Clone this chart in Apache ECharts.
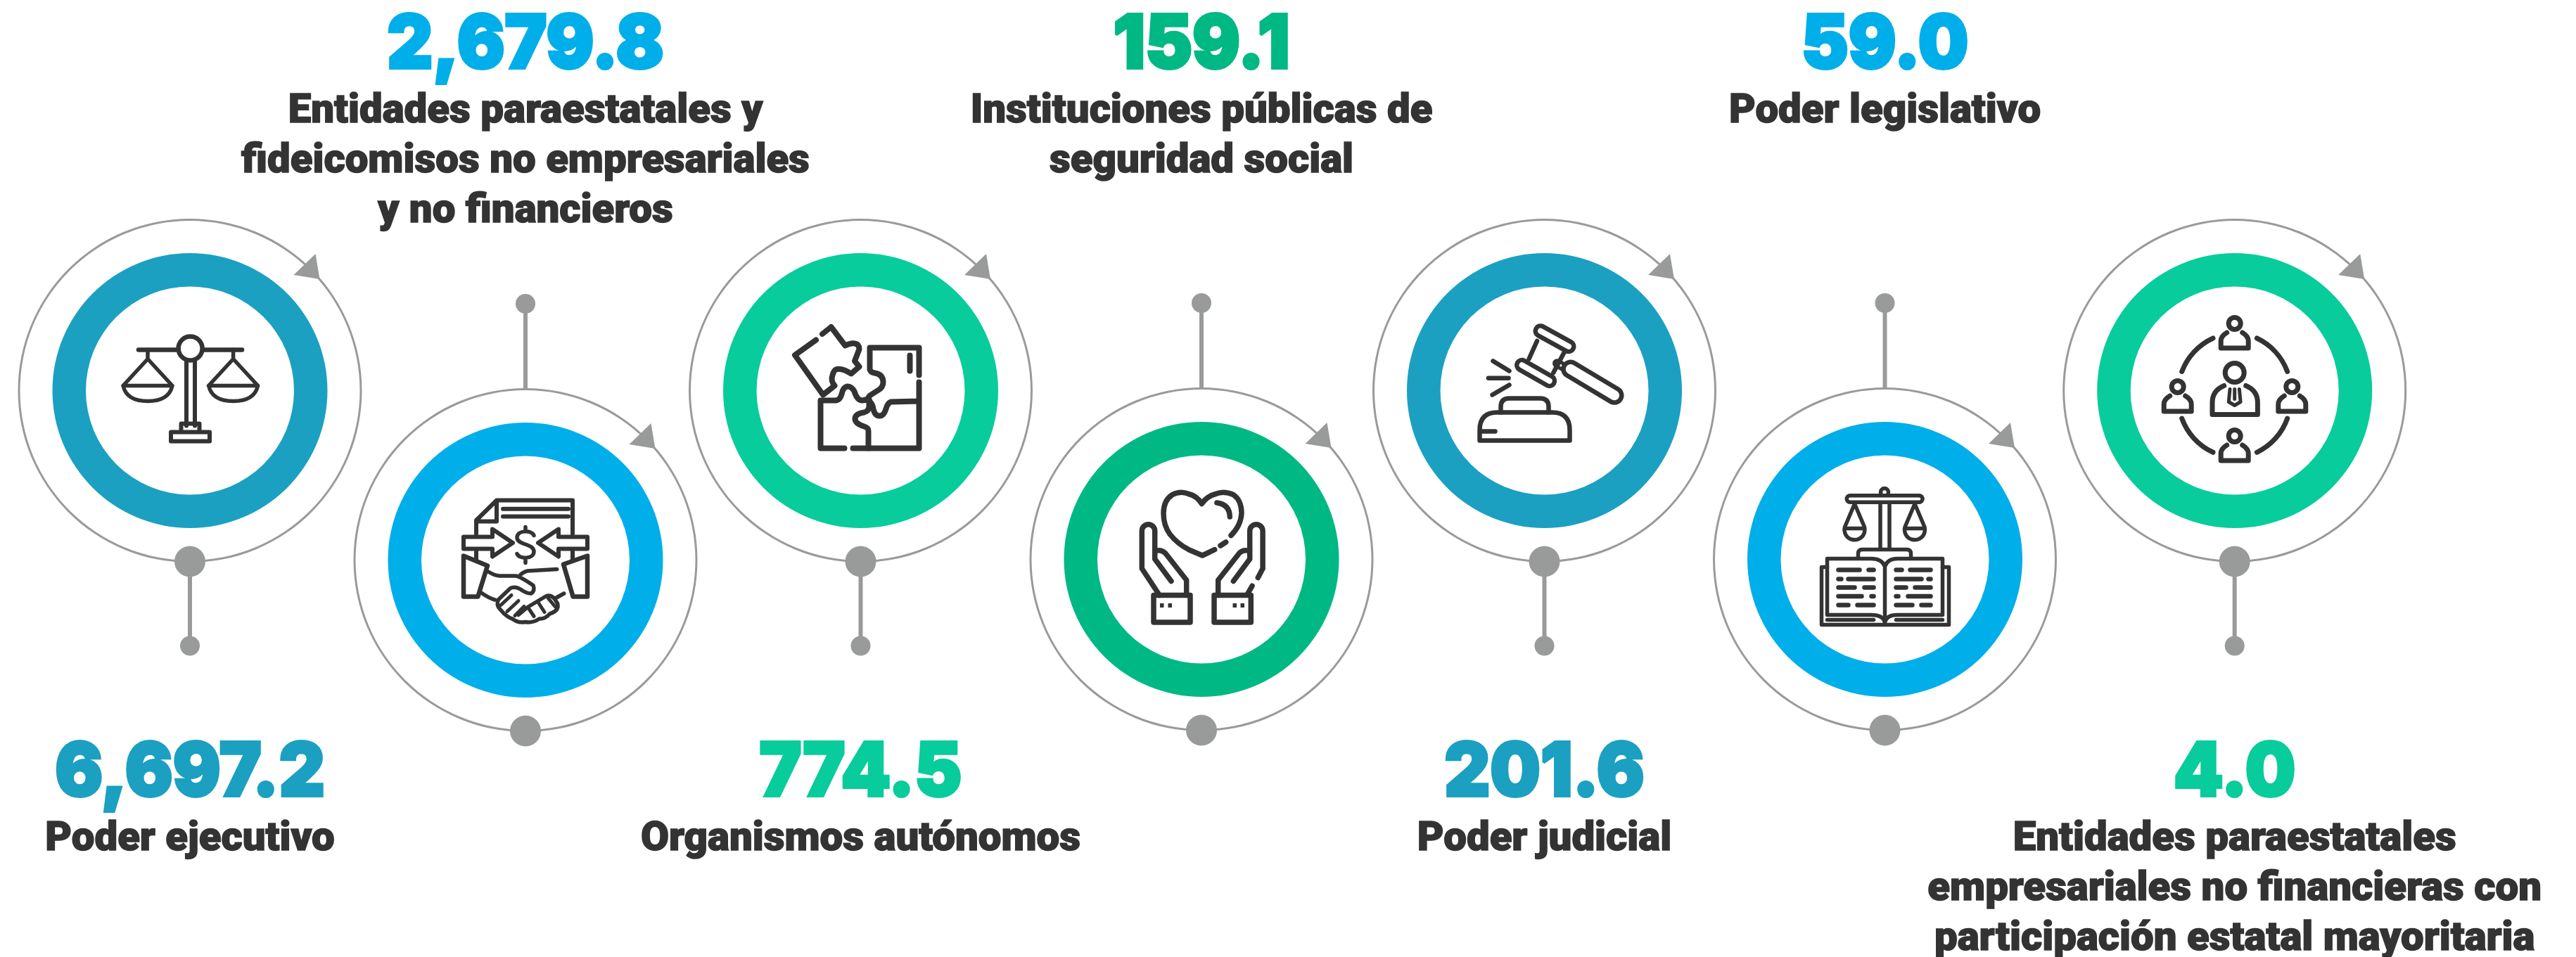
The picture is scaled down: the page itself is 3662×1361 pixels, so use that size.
<!DOCTYPE html>
<html><head><meta charset="utf-8">
<style>html,body{margin:0;padding:0;background:#fff}#c{width:3662px;height:1361px}</style>
<script src="https://cdn.jsdelivr.net/npm/echarts@6/dist/echarts.min.js"></script>
</head><body><div id="c"></div>
<script>
// ---- data ----
const categories = [
  ['Poder ejecutivo'],
  ['Entidades paraestatales y','fideicomisos no empresariales','y no financieros'],
  ['Organismos autónomos'],
  ['Instituciones públicas de','seguridad social'],
  ['Poder judicial'],
  ['Poder legislativo'],
  ['Entidades paraestatales','empresariales no financieras con','participación estatal mayoritaria']
];
const values = [6697.2, 2679.8, 774.5, 159.1, 201.6, 59.0, 4.0];
const valueLabels = ['6,697.2','2,679.8','774.5','159.1','201.6','59.0','4.0'];

// ---- layout and styles ----
const W = 3662, H = 1361;
const nodeX = [270, 747, 1223.5, 1708, 2195.5, 2679.5, 3176.7];
const nodeY = [555.5, 796.5, 555.5, 795.5, 555.5, 795.5, 555.5];
const ringColor = ['#1ba0c1','#00aeea','#08cc9b','#00b884','#1ba0c1','#00aeea','#08cc9b'];
const GREY = '#999b9a', INK = '#333333';
const VALUE_FONT = {fontFamily:'Inter', fontWeight:900, fontSize:106};
const LABEL_FONT = {fontFamily:'Roboto', fontWeight:900, fontSize:57};
const VALUE_SX = 0.95, LABEL_SX = 1.02;
const circ = (x,y,r)=>`M${x-r},${y} A${r},${r} 0 1,0 ${x+r},${y} A${r},${r} 0 1,0 ${x-r},${y} Z`;
const pan = x=>`M${x},-58 V-45 M${x},-45 L${x-35},-7 L${x+35},-7 Z M${x-35},-7 Q${x-30},15 ${x},15 Q${x+30},15 ${x+35},-7`;
const person = (x,y)=>circ(x,y,8.5)+` M${x-11},${y+13} Q${x-19.5},${y+18} ${x-19.5},${y+25} V${y+35} H${x+19.5} V${y+25} Q${x+19.5},${y+18} ${x+11},${y+13}`;
const bookPan = x=>`M${x},-79 L${x-14},-46 A14.5,14.5 0 1,0 ${x+14},-46 Z M${x-12},-44 H${x+12}`;
const W_ = '#ffffff';
const icons = [
 // scales
 [[`M-73,-58 H74`,6.5],[pan(-60),5.5],[pan(61.6),5.5],
  [`M-5,-43 V50 M7,-43 V50`,6],[`M-12.5,56 V47 H13.5 V56`,6],[`M-27,59 H28 V72 H-27 Z`,6],
  [circ(0.6,-60,17),6.5,INK,W_]],
 // handshake and document
 [[`M-70,-37 V-56.5 L-41,-85 H67 V-37 M-41,-85 V-55 H-70 M-32,-72.7 H61 M-32,-62 H61 M-70,-13 V-1 M67,-13 V-1`,6],
  [`M-88,-33 H-47 V-44 L-18,-24.5 L-47,-5 V-16 H-88 Z`,6],[`M88,-33 H47 V-44 L18,-24.5 L47,-5 V-16 H88 Z`,6],
  [`M12,-35 C9,-43 -12,-43 -12,-32 C-12,-21 12,-24 12,-12 C12,-1 -9,-1 -12,-9 M0,-47 V-42 M0,-1 V4`,5.5],
  [`M-88,-6 L-54,8 L-67.6,52 H-88 Z`,6.5],[`M88,-6 L54,6 L67.6,52 H88 Z`,6.5],
  [`M-52,17 Q-44,22 -37,22.5 H-14 Q-8,23 11,36 Q14,44 8,47.5 Q2,48 -8,41 Q-16,37 -22,40.4 L-38.7,56.5 M-63.7,46 Q-52,54 -43.7,56.5`,5.5],
  [`M-7,20.6 Q0,15 6.3,15.3 L44.7,13 M41.3,55 L54.7,47.5`,5.5],
  [`M-38.7,56.5 Q-42,64 -36,70 L-30.3,76.3 Q-24,82 -18.7,83.5 Q-10,90 -0.3,88 Q10,90 19.7,83.5 Q28,84 34.7,76.3 Q48,72 45.7,62 L41.3,55 Q36,49 29.7,51 L3,67 L-10,78`,5.5],
  [`M-20,50 L-35,64 M-10,58 L-26,73 M-2,66 L-15,79 M4,68 L12,80 M18,60 L27,74 M32,54 L42,66`,5]],
 // puzzle
 [[`M83,-22 V-61 H13 V-30 Q14,-26 20,-25 Q32,-23 32,-12 Q32,-4 24,0 L13,7 Q10,10 10,14 M70,-50 V-28`,8],
  [`M83,-12 V82 H-11 M83,15 L43,16 Q38,18 36,26 Q33,36 27,36 Q20,36 18,26 Q16,14 6,13`,8],
  [`M11,82 V57 Q11,53 5,51 Q-8,47 -8,40 Q-8,33 5,31 Q12,29 12,22 V13`,8],
  [`M-23,82 H-57 V14 H-35 Q-29,13 -27,5 Q-25,-5 -19,-6 Q-13,-6 -9,1 Q-5,14 2,14 L12,13`,8],
  [`M-63.5,-72 L-93.5,-50.5 L-53.5,6 L-37,-7 Q-43,-14 -40,-22 Q-38,-30 -33.5,-30.5 Q-26,-32 -13.5,-24 L-2,-34 L-8.5,-42 L-2,-59 Q-2,-66 -8.5,-67 Q-14,-68 -22,-64 L-42,-90.5 L-54.5,-80.5`,8]],
 // hands and heart
 [[`M18.7,-13.8 L1.3,-5.5 L-18,-13.8 Q-34,-22 -44.7,-35.5 Q-54,-48 -54,-65.5 Q-54,-84 -41.3,-92 Q-30,-98 -18,-93 Q-6,-90 0.3,-79 Q8,-90 20,-93 Q32,-98 45.3,-92 Q57,-84 57,-65.5 Q56,-48 42,-34`,7.5],
  [`M27,-19.5 L34.7,-24.5 M22,-80.5 Q40,-78 40.3,-60.5`,7.5],
  [`M-59.7,51 L-84.7,13 V-40.5 A9.2,9.2 0 0,1 -66.3,-40.5 V-0.5 L-43,31 M-66.3,-11.5 Q-58,-15 -51.3,-8.8 L-21.3,29.5 V51`,7.5],
  [`M-68,51 H-16 V89.5 H-68 Z`,7.5],
  [`M87.1,13 V-40.5 A9.2,9.2 0 0,0 68.7,-40.5 V-0.5 L45.4,31 M68.7,-11.5 Q60,-15 53.7,-8.8 L23.7,29.5 V51 M87.1,13 L80.3,26 M72,37.8 L65.3,49.5`,7.5],
  [`M18,51 H70.3 V89.5 H18 Z`,7.5],
  [`M-59,65.5 H-53.5 M-47.5,65.5 H-42 M44.5,65.5 H50 M55.5,65.5 H61`,6,INK,null,'butt']],
 // gavel
 [[`M-92,71 V56 Q-92,31 -67,31 H11 Q36,31 36,56 V71 Z M-90,58 H-70`,6.5],
  [`M-62,31 V23 Q-62,11 -50,11 H-6 Q6,11 6,23 V31`,6.5],
  [`M-73,-42 L-50,-28 M-79.5,-17.8 H-51 M-74,6 L-50,-8`,6.5],
  [`M18,-38.8 L36,-28.8`,13],[`M18,-38.8 L36,-28.8`,3,W_],
  [`M37.2,-30.5 L99.5,6.8`,27],[`M37.2,-30.5 L99.5,6.8`,14,W_],
  [`M-10.5,-70.5 L-22,-45 M27.8,-53.8 L12.8,-25.5`,6.5],
  [`M-5.5,-84.8 L34.5,-62.8`,21],[`M-5.5,-84.8 L34.5,-62.8`,8,W_],
  [`M-32,-36.2 L7.2,-13.8`,21],[`M-32,-36.2 L7.2,-13.8`,8,W_]],
 // book and scales
 [[circ(-0.5,-95.5,5.5),5.5],[`M-6.5,-79 V-15 M6.5,-79 V-15`,5.5],
  [`M-49.5,-86 H48.8`,15],[`M-49.5,-86 H48.8`,4,W_],
  [bookPan(-43),5.5],[bookPan(42.5),5.5],
  [`M-38,-4 V-8 Q-38,-14 -32,-14 H31 Q37,-14 37,-8 V-4`,5.5],
  [`M-82,-1 H-20 Q-4,-1 0,10 Q4,-1 18,-1 H82 V79 H18 Q2,79 0,90 Q-2,79 -20,79 H-82 Z M0,10 V90`,5.5],
  [`M-82,11 H-90 V93 H91 V11 H82 M-82,86 H-16 M16,86 H82`,5.5],
  [`M-66,15 H-36 M-23,15 H-16 M-66,28 H-62 M-52,28 H-16 M-66,40 H-43 M-29,40 H-16 M-66,52.5 H-33 M-19,52.5 H-16 M-66,65 H-52 M-39,65 H-16`,6.5],
  [`M16,15 H24 M36,15 H65 M16,28 H52 M62,28 H65 M16,40 H30 M43,40 H65 M16,52.5 H19 M33,52.5 H65 M16,65 H39 M52,65 H65`,6.5]],
 // people network
 [[person(0,-95.5),7],[person(0,64.5),7],[person(-81,-5.5),7],[person(81.6,-5.5),7],
  [circ(0,-25.5,13.5),7],
  [`M-15,-7 Q-31.7,0 -31.7,17 V34 H32.7 V17 Q32.7,0 16,-7`,7],
  [`M-6.7,-2 L-8.4,16 L0,21 L8.4,16 L6.7,-2 M0,-2 V12`,5],
  [`M-30.7,-74.5 A85,85 0 0,0 -75,-27 M31.7,-74.5 A85,85 0 0,1 75,-27 M-75,39.5 A85,85 0 0,0 -30.7,87.8 M75,39.5 A85,85 0 0,1 31.7,87.8`,7]]
];

// ---- rings, drawn from the values ----
const ringSeries = [];
values.forEach((v,i)=>{
  const base = {type:'pie', silent:true, animation:false, center:[nodeX[i],nodeY[i]],
    label:{show:false}, labelLine:{show:false}};
  ringSeries.push(Object.assign({}, base, {name:categories[i].join(' ')+' contorno', radius:[241.5,244.5],
    data:[{value:v, itemStyle:{color:GREY}}]}));
  ringSeries.push(Object.assign({}, base, {name:categories[i].join(' '), radius:[148,195.5],
    data:[{value:v, itemStyle:{color:ringColor[i]}}]}));
});

function renderNode(params, api){
  const i = api.value(2);
  const p = api.coord([api.value(0), api.value(1)]);
  const cx = p[0], cy = p[1];
  const kids = [];
  const odd = i % 2 === 0;
  const pinY = odd ? cy+363 : cy-364.5;
  const stemFrom = odd ? cy+243 : cy-243;
  kids.push({type:'line', shape:{x1:cx,y1:stemFrom,x2:cx,y2:pinY}, style:{stroke:GREY,lineWidth:6}});
  kids.push({type:'circle', shape:{cx:cx,cy:pinY,r:14}, style:{fill:GREY}});
  kids.push({type:'circle', shape:{cx:cx,cy:cy+243,r:22}, style:{fill:GREY}});
  kids.push({type:'polygon', shape:{points:[[cx+178.5,cy-194.5],[cx+147.5,cy-164.5],[cx+184.5,cy-158.5]]}, style:{fill:GREY}});
  icons[i].forEach(part=>{
    kids.push({type:'path', x:cx, y:cy, shape:{pathData:part[0]},
      style:{fill:part[3]||'none', stroke:part[2]||INK, lineWidth:part[1], lineCap:part[4]||'round', lineJoin:'round'}});
  });
  // texts
  const lines = categories[i];
  let valY, firstY;
  if (odd){ valY = 1100.5; firstY = 1195; } else { valY = 65.5; firstY = 160; }
  kids.push({type:'text', x:cx, y:valY, scaleX:VALUE_SX,
    style:Object.assign({text:valueLabels[i], fill:ringColor[i], align:'center', verticalAlign:'middle',
      stroke:ringColor[i], lineWidth:4, lineJoin:'round'}, VALUE_FONT)});
  lines.forEach((t,k)=>{
    kids.push({type:'text', x:cx, y:firstY+k*71, scaleX:LABEL_SX,
      style:Object.assign({text:t, fill:INK, align:'center', verticalAlign:'middle', stroke:INK, lineWidth:1.5, lineJoin:'round'}, LABEL_FONT)});
  });
  return {type:'group', children:kids};
}

const chart = echarts.init(document.getElementById('c'), null, {width:W, height:H, renderer:'canvas'});
chart.setOption({
  backgroundColor:'#ffffff', animation:false,
  grid:{left:0,right:0,top:0,bottom:0},
  xAxis:{type:'value',min:0,max:W,show:false},
  yAxis:{type:'value',min:0,max:H,inverse:true,show:false},
  series: ringSeries.concat([{
    type:'custom', coordinateSystem:'cartesian2d', silent:true, clip:false, z:5,
    renderItem:renderNode,
    encode:{x:0,y:1},
    data: values.map((v,i)=>[nodeX[i],nodeY[i],i,v])
  }])
});
</script></body></html>
